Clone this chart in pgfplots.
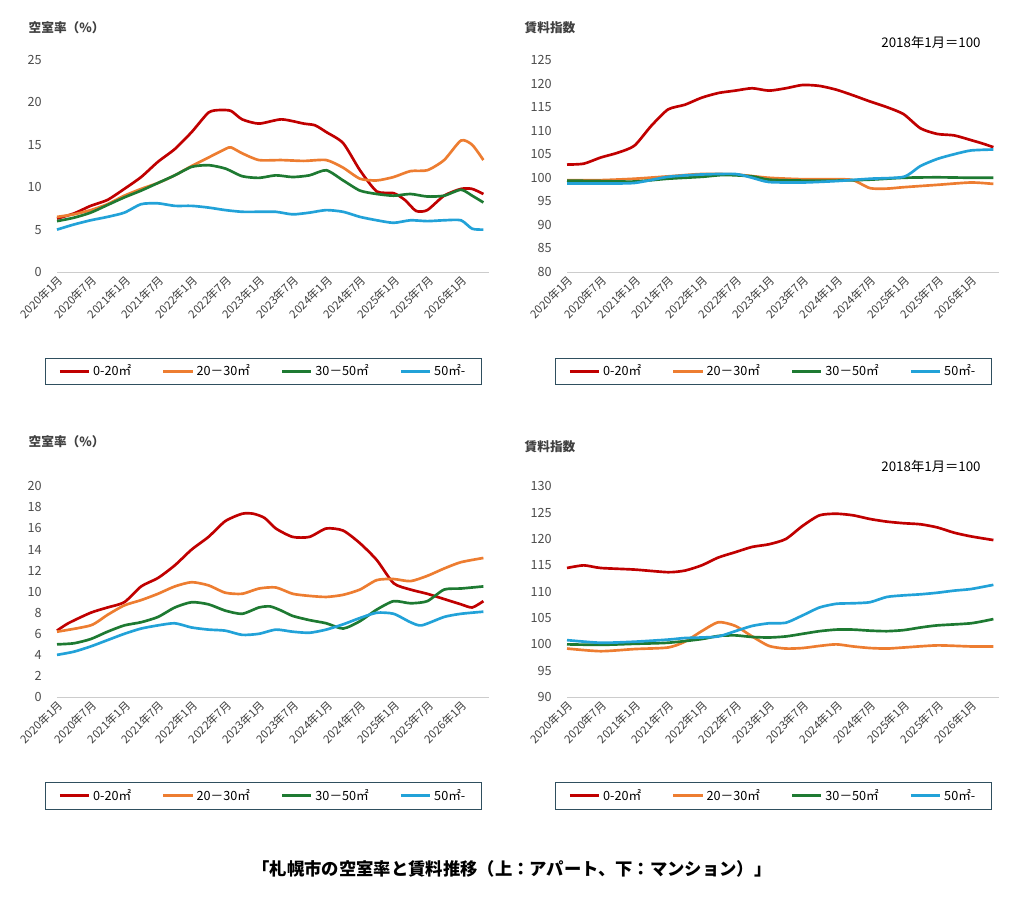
\documentclass[border=0pt]{standalone}
\usepackage{fontspec}
\setmainfont{Noto Sans CJK JP}
\usepackage{pgfplots}
\pgfplotsset{compat=1.18}
\definecolor{cR}{HTML}{C00000}
\definecolor{cO}{HTML}{ED7D31}
\definecolor{cG}{HTML}{1E7A32}
\definecolor{cB}{HTML}{22A2D8}
\definecolor{lg}{HTML}{2F4F5F}
\pgfplotsset{
 base/.style={scale only axis, width=324pt, anchor=origin, xmin=0, xmax=77,
  axis x line*=bottom, axis y line*=left, x axis line style={draw=gray!40,-}, y axis line style={draw=none},
  major tick length=0pt, xtick={0,6,...,72},
  xticklabels={2020年1月,2020年7月,2021年1月,2021年7月,2022年1月,2022年7月,2023年1月,2023年7月,2024年1月,2024年7月,2025年1月,2025年7月,2026年1月},
  x tick label style={rotate=45, anchor=north east, font=\fontsize{8.5}{9}\selectfont, text=black!75, inner sep=1pt},
  y tick label style={font=\fontsize{9.5}{10}\selectfont, text=black!70, xshift=-8pt},
  /pgf/number format/assume math mode=true, clip=false,
  every axis plot/.append style={line width=2pt, smooth, tension=0.4, no marks},
  legend columns=4,
  legend style={draw=lg, at={(-0.028,-0.405)}, anchor=north west, font=\fontsize{9.5}{10}\selectfont,
   /tikz/every even column/.append style={column sep=21pt}, inner xsep=10pt, inner ysep=3pt},
  legend image code/.code={\draw[#1, line width=2pt] (0pt,0pt) -- (22pt,0pt);},
 }
}
\begin{document}
\begin{tikzpicture}
\path (0,0) rectangle (768pt,-672pt);
% TL
\begin{axis}[base, at={(42.75pt,-204pt)}, height=159pt, ymin=0, ymax=25, ytick={0,5,...,25}]
\addplot[cR] coordinates {(0,6.3)(3,6.9)(6,7.8)(9,8.5)(12,9.8)(15,11.2)(18,13)(21,14.5)(24,16.5)(27,18.8)(29,19.1)(31,19)(33,18)(36,17.5)(40,18)(44,17.5)(46,17.3)(48,16.5)(51,15.2)(54,12)(57,9.5)(60,9.3)(62,8.5)(64,7.2)(66,7.3)(69,9)(72,9.8)(74,9.8)(76,9.2)};
\addplot[cO] coordinates {(0,6.5)(3,6.8)(6,7.3)(9,8)(12,9)(15,9.8)(18,10.5)(21,11.4)(24,12.5)(27,13.5)(30,14.5)(31,14.7)(33,14)(36,13.2)(40,13.2)(44,13.1)(48,13.2)(51,12.3)(54,11.0)(57,10.8)(60,11.2)(63,11.9)(66,12)(69,13.2)(72,15.5)(74,15)(76,13.2)};
\addplot[cG] coordinates {(0,6.0)(3,6.4)(6,7)(9,7.9)(12,8.8)(15,9.6)(18,10.5)(21,11.4)(24,12.4)(27,12.6)(30,12.2)(33,11.3)(36,11.1)(39,11.4)(42,11.2)(45,11.4)(48,12)(51,10.8)(54,9.6)(57,9.2)(60,9)(63,9.2)(66,8.9)(69,9.0)(72,9.7)(74,9)(76,8.2)};
\addplot[cB] coordinates {(0,5.0)(3,5.6)(6,6.1)(9,6.5)(12,7.0)(15,8.0)(18,8.1)(21,7.8)(24,7.8)(27,7.6)(30,7.3)(33,7.1)(36,7.1)(39,7.1)(42,6.8)(45,7)(48,7.3)(51,7.1)(54,6.5)(57,6.1)(60,5.8)(63,6.1)(66,6.0)(69,6.1)(72,6.1)(74,5.1)(76,5.0)};
\legend{0-20㎡,20－30㎡,30－50㎡,50㎡-}
\end{axis}
% TR
\begin{axis}[base, at={(425.25pt,-204pt)}, height=159pt, ymin=80, ymax=125, ytick={80,85,...,125}]
\addplot[cR] coordinates {(0,102.8)(3,103)(6,104.3)(9,105.3)(12,106.8)(15,111)(18,114.5)(21,115.5)(24,117)(27,118)(30,118.5)(33,119)(36,118.5)(39,119)(42,119.7)(45,119.5)(48,118.7)(51,117.5)(54,116.2)(57,115)(60,113.5)(63,110.5)(66,109.3)(69,109)(72,108)(74,107.3)(76,106.5)};
\addplot[cO] coordinates {(0,99.5)(6,99.5)(12,99.8)(18,100.3)(24,100.8)(30,100.7)(36,100)(42,99.7)(48,99.7)(51,99.5)(54,97.8)(57,97.7)(60,98)(66,98.5)(72,99)(76,98.7)};
\addplot[cG] coordinates {(0,99.4)(6,99.3)(12,99.2)(18,99.8)(24,100.2)(28,100.6)(33,100.3)(36,99.6)(42,99.4)(48,99.4)(54,99.6)(60,100)(66,100.1)(72,100.0)(76,100.0)};
\addplot[cB] coordinates {(0,98.8)(6,98.8)(12,98.9)(18,100.2)(24,100.7)(30,100.8)(33,100)(36,99.1)(42,99.0)(48,99.3)(54,99.8)(60,100.2)(63,102.5)(66,104)(69,105)(72,105.8)(76,106)};
\legend{0-20㎡,20－30㎡,30－50㎡,50㎡-}
\end{axis}
% BL
\begin{axis}[base, at={(42.75pt,-522.75pt)}, height=158pt, ymin=0, ymax=20, ytick={0,2,...,20}]
\addplot[cR] coordinates {(0,6.3)(2,7)(6,8)(9,8.5)(12,9)(15,10.5)(18,11.3)(21,12.5)(24,14)(27,15.2)(30,16.7)(33,17.4)(35,17.4)(37,17)(39,16)(42,15.2)(45,15.2)(48,16)(51,15.8)(54,14.6)(57,13)(60,10.8)(63,10.2)(66,9.8)(69,9.3)(72,8.8)(74,8.5)(76,9.1)};
\addplot[cO] coordinates {(0,6.2)(6,6.8)(9,7.8)(12,8.7)(15,9.2)(18,9.8)(21,10.5)(24,10.9)(27,10.6)(30,9.9)(33,9.8)(36,10.3)(39,10.4)(42,9.8)(45,9.6)(48,9.5)(51,9.7)(54,10.2)(57,11.1)(60,11.2)(63,11)(66,11.5)(69,12.2)(72,12.8)(76,13.2)};
\addplot[cG] coordinates {(0,5.0)(3,5.1)(6,5.5)(9,6.2)(12,6.8)(15,7.1)(18,7.6)(21,8.5)(24,9.0)(27,8.8)(30,8.2)(33,7.9)(36,8.5)(38,8.6)(40,8.2)(42,7.7)(45,7.3)(48,7.0)(51,6.5)(54,7.2)(57,8.3)(60,9.1)(63,8.9)(66,9.1)(69,10.2)(72,10.3)(76,10.5)};
\addplot[cB] coordinates {(0,4.0)(3,4.3)(6,4.8)(9,5.4)(12,6.0)(15,6.5)(18,6.8)(21,7.0)(24,6.6)(27,6.4)(30,6.3)(33,5.9)(36,6.0)(39,6.4)(42,6.2)(45,6.1)(48,6.4)(51,6.9)(54,7.5)(57,8.0)(60,7.9)(63,7.1)(65,6.8)(69,7.6)(72,7.9)(76,8.1)};
\legend{0-20㎡,20－30㎡,30－50㎡,50㎡-}
\end{axis}
% BR
\begin{axis}[base, at={(425.25pt,-522.75pt)}, height=158pt, ymin=90, ymax=130, ytick={90,95,...,130}]
\addplot[cR] coordinates {(0,114.5)(3,115)(6,114.5)(12,114.2)(18,113.7)(21,114)(24,115)(27,116.5)(30,117.5)(33,118.5)(36,119)(39,120)(42,122.5)(45,124.5)(48,124.8)(51,124.5)(54,123.8)(57,123.3)(60,123)(63,122.8)(66,122.2)(69,121.2)(72,120.5)(76,119.8)};
\addplot[cO] coordinates {(0,99.2)(6,98.7)(12,99.1)(18,99.4)(21,100.5)(24,102.5)(27,104.2)(30,103.5)(33,101.5)(36,99.7)(39,99.2)(42,99.3)(45,99.7)(48,100)(51,99.6)(54,99.3)(57,99.2)(60,99.4)(66,99.8)(72,99.6)(76,99.6)};
\addplot[cG] coordinates {(0,100)(6,99.9)(12,100.1)(18,100.3)(24,101)(27,101.6)(30,101.7)(33,101.4)(36,101.3)(39,101.5)(42,102)(45,102.5)(48,102.8)(51,102.8)(54,102.6)(57,102.5)(60,102.7)(63,103.2)(66,103.6)(72,104)(76,104.8)};
\addplot[cB] coordinates {(0,100.8)(6,100.3)(12,100.5)(18,100.9)(21,101.2)(24,101.3)(27,101.5)(30,102.5)(33,103.5)(36,104)(39,104.1)(42,105.5)(45,107)(48,107.7)(51,107.8)(54,108)(57,109)(60,109.3)(63,109.5)(66,109.8)(69,110.2)(72,110.5)(76,111.3)};
\legend{0-20㎡,20－30㎡,30－50㎡,50㎡-}
\end{axis}
\begin{scope}[every node/.style={font=\bfseries\fontsize{9.5}{10}\selectfont, text=black!75, anchor=west}]
\node at (18pt,-21pt) {空室率（\%）};
\node at (390pt,-21pt) {賃料指数};
\node at (18pt,-331pt) {空室率（\%）};
\node at (390pt,-335pt) {賃料指数};
\end{scope}
\node[anchor=east, font=\fontsize{10}{11}\selectfont] at (739pt,-31.5pt) {2018年1月＝100};
\node[anchor=east, font=\fontsize{10}{11}\selectfont] at (739pt,-349.5pt) {2018年1月＝100};
\node[font=\bfseries\fontsize{13}{14}\selectfont] at (384pt,-652pt) {「札幌市の空室率と賃料推移（上：アパート、下：マンション）」};
\end{tikzpicture}
\end{document}
